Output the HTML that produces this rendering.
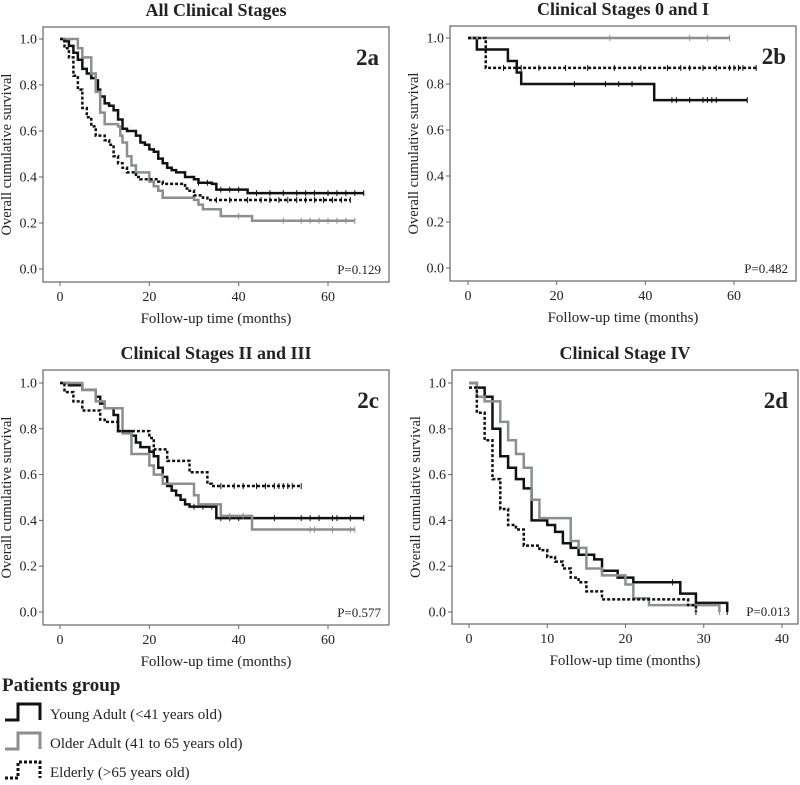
<!DOCTYPE html>
<html><head><meta charset="utf-8"><style>
body{margin:0;background:#fff;width:800px;height:780px;overflow:hidden}
svg text{font-family:"Liberation Serif",serif;fill:#222}
</style></head><body>
<svg id="c" width="800" height="780" xmlns="http://www.w3.org/2000/svg">
<g id="legend">
<text x="2" y="691" font-size="19" font-weight="bold">Patients group</text>
<g><path d="M5 720 H18 V704 H40 V720" fill="none" stroke="#111" stroke-width="3"/><text x="50" y="719" font-size="15">Young Adult (&lt;41 years old)</text></g>
<g><path d="M5 749 H18 V733 H40 V749" fill="none" stroke="#8a8f8f" stroke-width="3"/><text x="50" y="748" font-size="15">Older Adult (41 to 65 years old)</text></g>
<g><path d="M5 778 H18 V762 H40 V778" fill="none" stroke="#111" stroke-width="3" stroke-dasharray="3,2"/><text x="50" y="777" font-size="15">Elderly (&gt;65 years old)</text></g>
</g>
</svg>
<script>
const a_young=[[0,1],[1,0.99],[2,0.97],[3,0.94],[4,0.91],[5,0.87],[6,0.85],[7,0.83],[8,0.82],[8.5,0.78],[9,0.75],[10,0.72],[11,0.71],[12,0.69],[13,0.65],[14,0.61],[15,0.60],[17,0.58],[18,0.55],[19,0.54],[20,0.52],[21,0.51],[22,0.48],[23,0.46],[24,0.44],[25,0.43],[26,0.42],[28,0.40],[30,0.39],[31,0.375],[34,0.37],[35,0.345],[42,0.33]];
const a_older=[[0,1],[4,0.96],[5,0.92],[7,0.85],[8,0.77],[9,0.68],[10,0.63],[13,0.62],[13.5,0.58],[14,0.55],[15,0.49],[16,0.45],[17,0.42],[20,0.38],[21,0.36],[22,0.34],[23,0.31],[30,0.30],[31,0.28],[32,0.26],[36,0.23],[43,0.21]];
const a_elderly=[[0,1],[1,0.96],[2,0.92],[3,0.84],[4,0.78],[5,0.70],[6,0.66],[7,0.62],[8,0.58],[10,0.56],[11,0.54],[12,0.49],[13,0.46],[14,0.44],[15,0.42],[17,0.40],[18,0.39],[22,0.38],[23,0.37],[28,0.35],[29,0.34],[30,0.32],[32,0.31],[33,0.30]];
const a_ends=[68,66,65];
const a_cens_young=[31,33,36,38,40,44,47,50,53,55,57,60,62,64,66];
const a_cens_older=[40,50,54,56,58,60,62,64];
const a_cens_elderly=[35,38,42,45,47,49,51,53,55,57,59,61,63];
const b_young=[[0,1],[2,0.95],[9,0.90],[11,0.85],[12,0.80],[42,0.73]];
const b_older=[[0,1]];
const b_elderly=[[0,1],[4,0.87]];
const b_ends=[63,59,65];
const b_cens_young=[24,31,34,37,46,47,50,53,54,55,56];
const b_cens_older=[32,50,54];
const b_cens_elderly=[8,12,16,22,27,33,39,45,48,50,53,56,59,60,61,62];
const c_young=[[0,1],[2,0.99],[5,0.97],[8,0.94],[9,0.91],[10,0.89],[12,0.86],[13,0.79],[16,0.77],[17,0.74],[18,0.72],[20,0.70],[21,0.68],[22,0.63],[23,0.59],[24,0.55],[25,0.53],[26,0.51],[27,0.49],[28,0.47],[29,0.46],[35,0.41]];
const c_older=[[0,1],[5,0.97],[8,0.92],[10,0.89],[14,0.78],[16,0.69],[20,0.64],[21,0.60],[23,0.56],[30,0.51],[31,0.47],[36,0.42],[43,0.36]];
const c_elderly=[[0,1],[1,0.96],[3,0.92],[5,0.88],[9,0.84],[10,0.83],[13,0.79],[20,0.76],[21,0.71],[24,0.66],[29,0.61],[33,0.56],[34,0.55]];
const c_ends=[68,66,54];
const c_cens_young=[30,32,34,36,38,40,43,48,54,56,58,61,62,65];
const c_cens_older=[38,41,56,57,61,65];
const c_cens_elderly=[36,39,41,44,46,48,49,50,51,52];
const d_young=[[0,1],[1,0.98],[2,0.94],[3,0.80],[4,0.68],[5,0.63],[6,0.58],[7,0.54],[8,0.40],[10,0.38],[11,0.35],[12,0.30],[13,0.28],[14,0.25],[16,0.23],[17,0.18],[19,0.15],[21,0.13],[27,0.08],[29,0.04],[33,0.0]];
const d_older=[[0,1],[1,0.94],[2,0.92],[4,0.83],[5,0.75],[6,0.69],[7,0.63],[8,0.49],[9,0.41],[13,0.31],[14,0.28],[15,0.19],[17,0.16],[20,0.12],[21,0.06],[23,0.03],[32,0.0]];
const d_elderly=[[0,0.98],[1,0.87],[2,0.75],[3,0.58],[4,0.45],[5,0.38],[6,0.36],[7,0.29],[9,0.27],[10,0.24],[11,0.22],[12,0.19],[13,0.15],[14,0.13],[15,0.09],[17,0.055],[28,0.03],[29,0.0]];
const d_ends=[33,32,29];
const d_cens_young=[26];
const d_cens_older=[];
const d_cens_elderly=[];
const yTicks=[0,0.2,0.4,0.6,0.8,1.0];
const xTicks60=[0,20,40,60];
const xTicks40=[0,10,20,30,40];

const NS="http://www.w3.org/2000/svg";
const svg=document.getElementById('c');
function mk(t,a,p){const e=document.createElementNS(NS,t);for(const k in a)e.setAttribute(k,a[k]);(p||svg).appendChild(e);return e;}
const panels=[
 {id:'2a',title:'All Clinical Stages',bx:43,by:27,bw:346,bh:255,x0:60,xs:(328-60)/60,y0:269,y1:39,xt:xTicks60,p:'P=0.129',s:[a_young,a_older,a_elderly],e:a_ends,c:[a_cens_young,a_cens_older,a_cens_elderly]},
 {id:'2b',title:'Clinical Stages 0 and I',bx:450,by:26,bw:346,bh:255,x0:468,xs:(734-468)/60,y0:268,y1:38,xt:xTicks60,p:'P=0.482',s:[b_young,b_older,b_elderly],e:b_ends,c:[b_cens_young,b_cens_older,b_cens_elderly]},
 {id:'2c',title:'Clinical Stages II and III',bx:43,by:370,bw:346,bh:255,x0:60,xs:(328-60)/60,y0:612,y1:383,xt:xTicks60,p:'P=0.577',s:[c_young,c_older,c_elderly],e:c_ends,c:[c_cens_young,c_cens_older,c_cens_elderly]},
 {id:'2d',title:'Clinical Stage IV',bx:452,by:370,bw:346,bh:254,x0:469,xs:(782-469)/40,y0:612,y1:383,xt:xTicks40,p:'P=0.013',s:[d_young,d_older,d_elderly],e:d_ends,c:[d_cens_young,d_cens_older,d_cens_elderly]}
];
const styles=[{stroke:'#111',dash:null,n:'young-adult'},{stroke:'#8a8f8f',dash:null,n:'older-adult'},{stroke:'#111',dash:'3,2',n:'elderly'}];
panels.forEach(P=>{
 const g=mk('g',{});
 
 
 const X=t=>P.x0+t*P.xs, Y=v=>P.y0-(P.y0-P.y1)*v;
 const cx=P.bx+P.bw/2;
 const tt=mk('text',{x:cx,y:P.by-11,'font-size':18,'font-weight':'bold','text-anchor':'middle'},g);tt.textContent=P.title;
 
 
 const box=mk('rect',{x:P.bx,y:P.by,width:P.bw,height:P.bh,fill:'none',stroke:'#666','stroke-width':1.2},g);
 
 
 yTicks.forEach(v=>{mk('line',{x1:P.bx-4,x2:P.bx,y1:Y(v),y2:Y(v),stroke:'#666'},g);
  const t=mk('text',{x:P.bx-6,y:Y(v)+4.5,'font-size':14,'text-anchor':'end'},g);t.textContent=v.toFixed(1);
  
  });
 P.xt.forEach(v=>{mk('line',{x1:X(v),x2:X(v),y1:P.by+P.bh,y2:P.by+P.bh+4,stroke:'#666'},g);
  const t=mk('text',{x:X(v),y:P.by+P.bh+19,'font-size':14,'text-anchor':'middle'},g);t.textContent=v;
  
  });
 const xl=mk('text',{x:cx,y:P.by+P.bh+41,'font-size':15,'text-anchor':'middle'},g);xl.textContent='Follow-up time (months)';
 
 
 const yx=P.bx-32, yy=P.by+P.bh/2;
 const yl=mk('text',{x:yx,y:yy,'font-size':14.5,'text-anchor':'middle',transform:`rotate(-90 ${yx} ${yy})`},g);yl.textContent='Overall cumulative survival';
 
 
 const lb=mk('text',{x:P.bx+P.bw-10,y:P.by+38,'font-size':23,'font-weight':'bold','text-anchor':'end'},g);lb.textContent=P.id;
 
 
 const pv=mk('text',{x:P.bx+P.bw-8,y:P.by+P.bh-8,'font-size':13,'text-anchor':'end'},g);pv.textContent=P.p;
 
 
 P.s.forEach((pts,i)=>{
  const st=styles[i];
  let d='M'+X(pts[0][0])+' '+Y(pts[0][1]);
  for(let k=1;k<pts.length;k++){d+=' H'+X(pts[k][0])+' V'+Y(pts[k][1]);}
  d+=' H'+X(P.e[i]);
  const a={d:d,fill:'none',stroke:st.stroke,'stroke-width':2.5};if(st.dash)a['stroke-dasharray']=st.dash;
  const path=mk('path',a,g);
  
  
  const cens=P.c[i].concat([P.e[i]]);
  cens.forEach(t=>{let v=pts[0][1];pts.forEach(p=>{if(p[0]<=t)v=p[1];});
   const m=mk('line',{x1:X(t),x2:X(t),y1:Y(v)-3,y2:Y(v)+3,stroke:st.stroke,'stroke-width':1},g);
   
   });
 });
});
</script>
</body></html>
